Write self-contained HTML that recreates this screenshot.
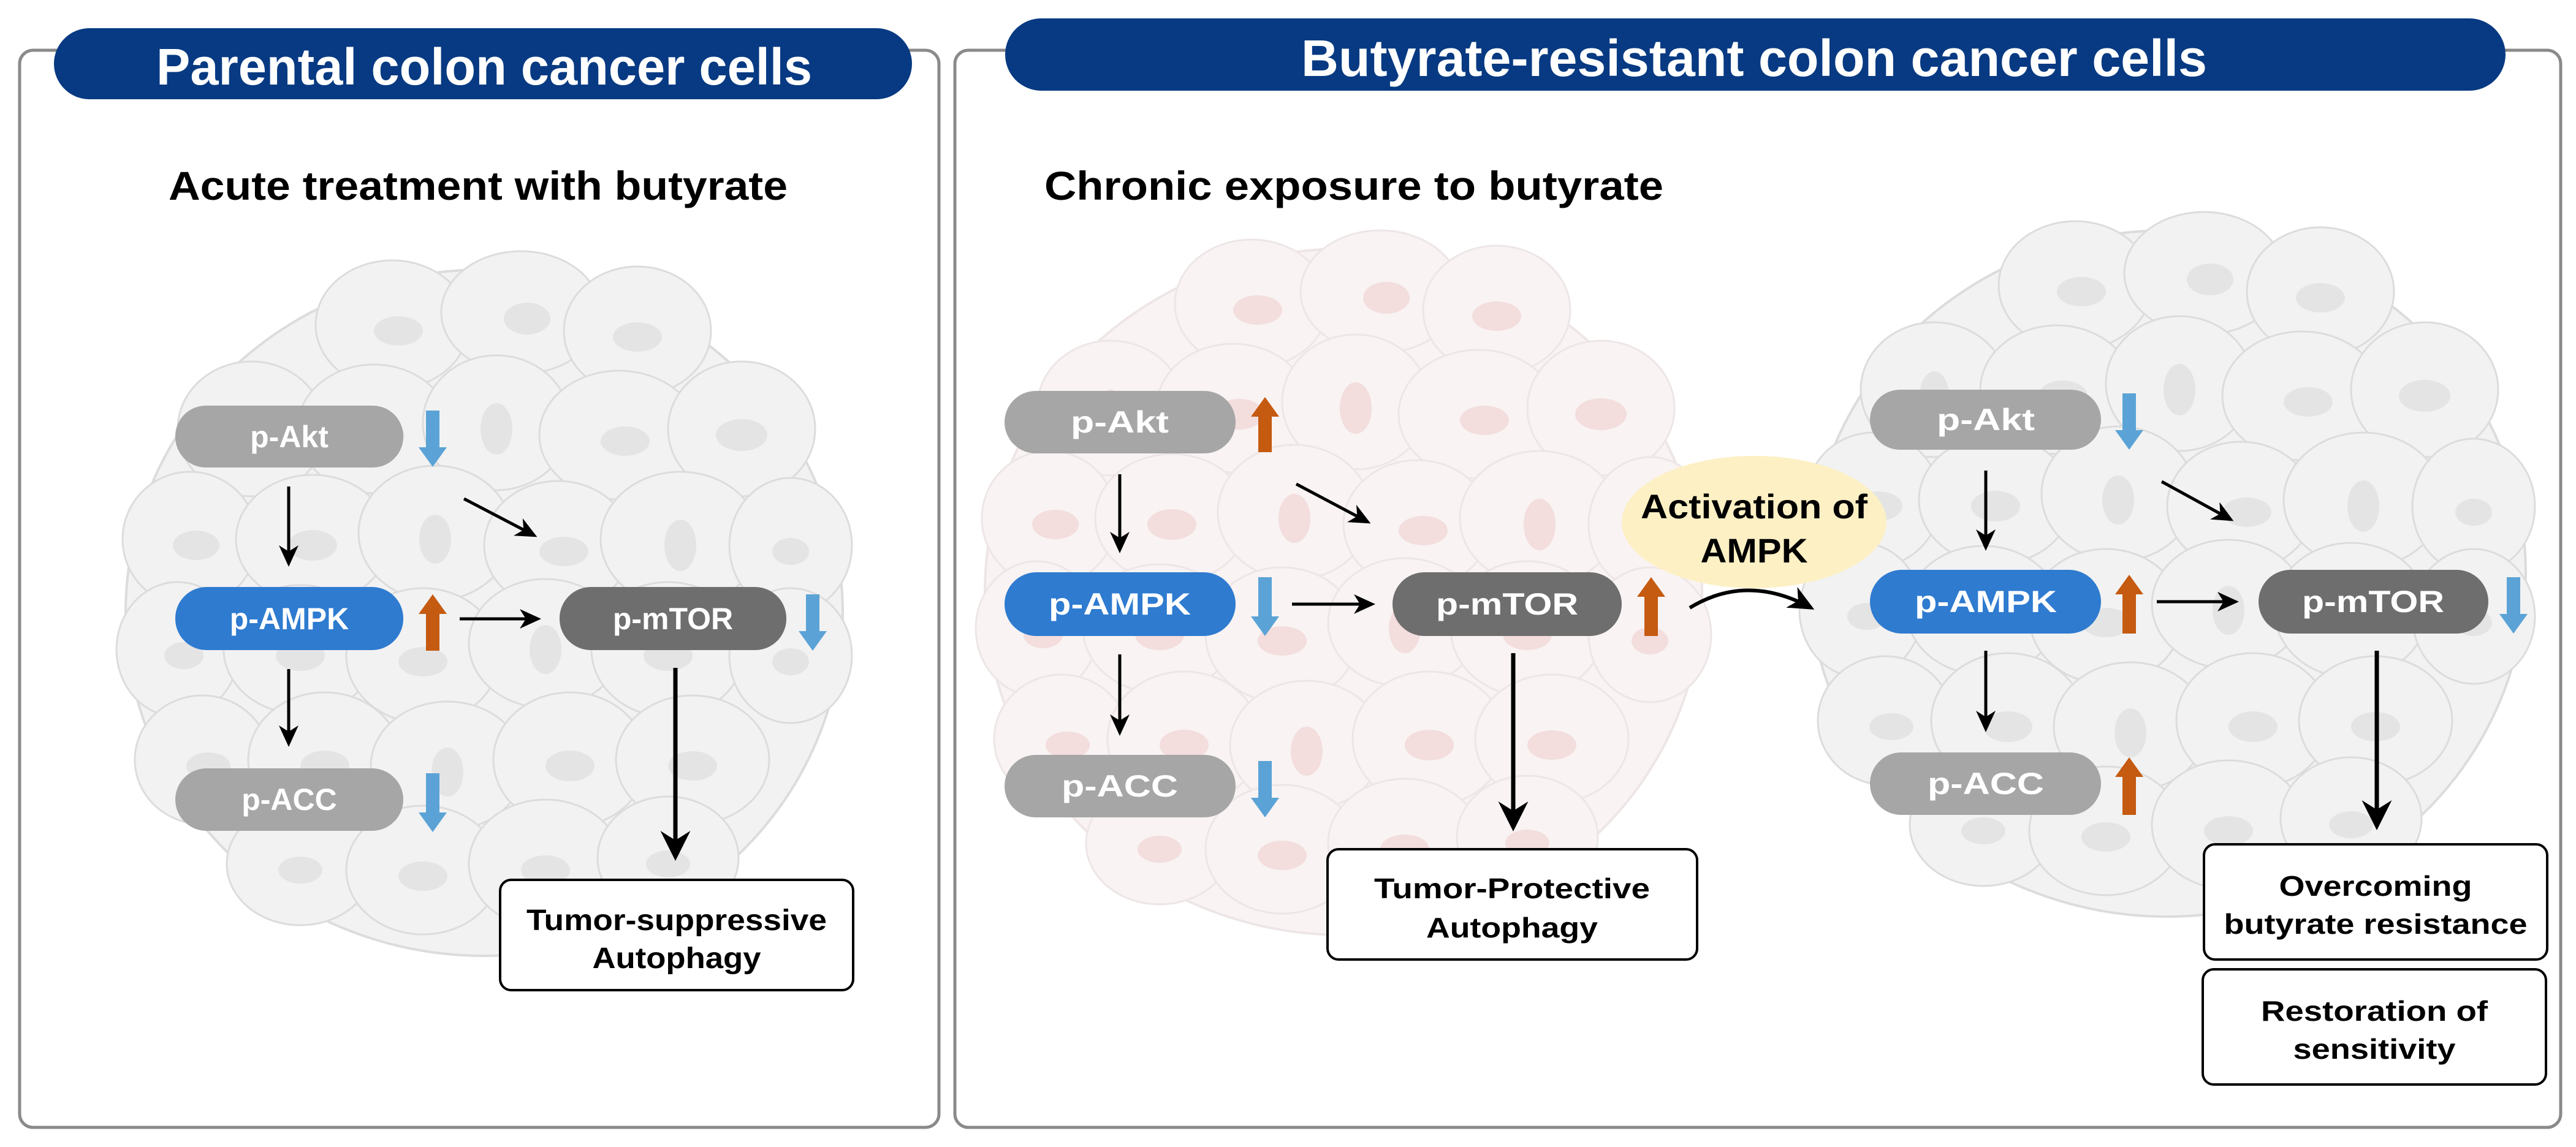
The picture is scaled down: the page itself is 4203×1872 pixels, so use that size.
<!DOCTYPE html>
<html><head><meta charset="utf-8"><style>
html,body{margin:0;padding:0;background:#fff}
svg{display:block}
text{font-family:"Liberation Sans",Arial,sans-serif;font-weight:bold}
</style></head><body>
<svg width="4203" height="1872" viewBox="0 0 4203 1872" xmlns="http://www.w3.org/2000/svg">
<defs>
<marker id="ah" markerWidth="8" markerHeight="8" refX="6" refY="4" orient="auto" markerUnits="strokeWidth"><path d="M0,0.8 L7,4 L0,7.2 L2,4 Z" fill="#000"/></marker>
<marker id="ah2" markerWidth="8" markerHeight="8" refX="6" refY="4" orient="auto" markerUnits="strokeWidth"><path d="M0,0.5 L7,4 L0,7.5 L2.2,4 Z" fill="#000"/></marker>
<g id="cluster">
 <ellipse cx="0" cy="0" rx="585" ry="560" stroke-width="4"/>
 <g stroke-width="3">
 <ellipse cx="-150" cy="-470" rx="125" ry="105"/><ellipse cx="60" cy="-490" rx="130" ry="100"/><ellipse cx="250" cy="-460" rx="120" ry="105"/>
 <ellipse cx="-380" cy="-300" rx="120" ry="110"/><ellipse cx="-180" cy="-300" rx="125" ry="105"/><ellipse cx="20" cy="-310" rx="120" ry="110"/><ellipse cx="220" cy="-290" rx="130" ry="105"/><ellipse cx="420" cy="-300" rx="120" ry="110"/>
 <ellipse cx="-480" cy="-120" rx="110" ry="110"/><ellipse cx="-280" cy="-120" rx="125" ry="105"/><ellipse cx="-80" cy="-130" rx="125" ry="110"/><ellipse cx="120" cy="-110" rx="120" ry="105"/><ellipse cx="320" cy="-120" rx="130" ry="110"/><ellipse cx="500" cy="-110" rx="100" ry="110"/>
 <ellipse cx="-500" cy="60" rx="100" ry="110"/><ellipse cx="-300" cy="60" rx="125" ry="105"/><ellipse cx="-100" cy="70" rx="125" ry="110"/><ellipse cx="100" cy="50" rx="125" ry="105"/><ellipse cx="300" cy="60" rx="125" ry="110"/><ellipse cx="500" cy="70" rx="100" ry="110"/>
 <ellipse cx="-460" cy="240" rx="110" ry="105"/><ellipse cx="-260" cy="240" rx="125" ry="110"/><ellipse cx="-60" cy="250" rx="125" ry="105"/><ellipse cx="140" cy="240" rx="125" ry="110"/><ellipse cx="340" cy="240" rx="125" ry="105"/>
 <ellipse cx="-300" cy="410" rx="120" ry="100"/><ellipse cx="-100" cy="420" rx="125" ry="105"/><ellipse cx="100" cy="410" rx="125" ry="105"/><ellipse cx="300" cy="400" rx="115" ry="100"/>
 </g>
 <g fill="currentColor" stroke="none">
 <ellipse cx="-140" cy="-460" rx="40" ry="24"/><ellipse cx="70" cy="-480" rx="38" ry="26"/><ellipse cx="250" cy="-450" rx="40" ry="24"/>
 <ellipse cx="-380" cy="-290" rx="24" ry="40"/><ellipse cx="-170" cy="-290" rx="40" ry="25"/><ellipse cx="20" cy="-300" rx="26" ry="42"/><ellipse cx="230" cy="-280" rx="40" ry="24"/><ellipse cx="420" cy="-290" rx="42" ry="26"/>
 <ellipse cx="-470" cy="-110" rx="38" ry="24"/><ellipse cx="-280" cy="-110" rx="40" ry="25"/><ellipse cx="-80" cy="-120" rx="26" ry="40"/><ellipse cx="130" cy="-100" rx="40" ry="24"/><ellipse cx="320" cy="-110" rx="26" ry="42"/><ellipse cx="500" cy="-100" rx="30" ry="22"/>
 <ellipse cx="-490" cy="70" rx="32" ry="22"/><ellipse cx="-300" cy="70" rx="40" ry="25"/><ellipse cx="-100" cy="80" rx="40" ry="24"/><ellipse cx="100" cy="60" rx="26" ry="40"/><ellipse cx="300" cy="70" rx="40" ry="25"/><ellipse cx="500" cy="80" rx="30" ry="22"/>
 <ellipse cx="-450" cy="250" rx="36" ry="22"/><ellipse cx="-260" cy="250" rx="40" ry="25"/><ellipse cx="-60" cy="260" rx="26" ry="40"/><ellipse cx="140" cy="250" rx="40" ry="25"/><ellipse cx="340" cy="250" rx="40" ry="24"/>
 <ellipse cx="-300" cy="420" rx="36" ry="22"/><ellipse cx="-100" cy="430" rx="40" ry="24"/><ellipse cx="100" cy="420" rx="40" ry="24"/><ellipse cx="300" cy="410" rx="36" ry="22"/>
 </g>
</g>
</defs>

<rect x="32" y="82" width="1500" height="1758" rx="22" fill="#fff" stroke="#8a8a8a" stroke-width="5"/>
<rect x="1558" y="82" width="2620" height="1758" rx="22" fill="#fff" stroke="#8a8a8a" stroke-width="5"/>
<rect x="88" y="46" width="1400" height="116" rx="58" fill="#073a82"/>
<rect x="1640" y="30" width="2448" height="118" rx="59" fill="#073a82"/>
<text x="790" y="138" font-size="84" fill="#fff" text-anchor="middle" textLength="1070" lengthAdjust="spacingAndGlyphs">Parental colon cancer cells</text>
<text x="2862" y="124" font-size="84" fill="#fff" text-anchor="middle" textLength="1478" lengthAdjust="spacingAndGlyphs">Butyrate-resistant colon cancer cells</text>
<text x="780" y="326" font-size="66" fill="#000" text-anchor="middle" textLength="1010" lengthAdjust="spacingAndGlyphs">Acute treatment with butyrate</text>
<text x="1704" y="326" font-size="66" fill="#000" textLength="1010" lengthAdjust="spacingAndGlyphs">Chronic exposure to butyrate</text>

<use href="#cluster" transform="translate(790,1000)" fill="#f2f2f2" stroke="#dcdcdc" color="#e4e4e4"/>
<use href="#cluster" transform="translate(2192,966)" fill="#f9f3f3" stroke="#eee6e6" color="#f3dddd"/>
<use href="#cluster" transform="translate(3536,936)" fill="#f2f2f2" stroke="#dcdcdc" color="#e4e4e4"/>

<g font-size="50" text-anchor="middle">
<rect x="286" y="662" width="372" height="101" rx="50" fill="#a6a6a6"/><text x="472" y="730" fill="#fff">p-Akt</text>
<rect x="286" y="958" width="372" height="103" rx="51" fill="#2e7bd0"/><text x="472" y="1027" fill="#fff">p-AMPK</text>
<rect x="286" y="1254" width="372" height="102" rx="51" fill="#a6a6a6"/><text x="472" y="1322" fill="#fff">p-ACC</text>
<rect x="913" y="958" width="370" height="103" rx="51" fill="#6e6e6e"/><text x="1098" y="1027" fill="#fff">p-mTOR</text>
</g>
<g stroke="#000" stroke-width="5" fill="none" marker-end="url(#ah)">
<line x1="471" y1="794" x2="471" y2="920"/>
<line x1="471" y1="1092" x2="471" y2="1214"/>
<line x1="757" y1="814" x2="872" y2="874"/>
<line x1="750" y1="1010" x2="878" y2="1010"/>
</g>
<line x1="1102" y1="1090" x2="1102" y2="1398" stroke="#000" stroke-width="7" marker-end="url(#ah2)"/>
<rect x="816" y="1436" width="576" height="180" rx="18" fill="#fff" stroke="#000" stroke-width="4"/>
<text x="1104" y="1518" font-size="48" text-anchor="middle" textLength="490" lengthAdjust="spacingAndGlyphs">Tumor-suppressive</text>
<text x="1104" y="1580" font-size="48" text-anchor="middle" textLength="275" lengthAdjust="spacingAndGlyphs">Autophagy</text>

<g font-size="50" text-anchor="middle">
<rect x="1639" y="638" width="377" height="102" rx="51" fill="#a6a6a6"/><text x="1827" y="706" fill="#fff" textLength="160" lengthAdjust="spacingAndGlyphs">p-Akt</text>
<rect x="1639" y="934" width="377" height="104" rx="52" fill="#2e7bd0"/><text x="1827" y="1003" fill="#fff" textLength="232" lengthAdjust="spacingAndGlyphs">p-AMPK</text>
<rect x="1639" y="1232" width="377" height="102" rx="51" fill="#a6a6a6"/><text x="1827" y="1300" fill="#fff" textLength="190" lengthAdjust="spacingAndGlyphs">p-ACC</text>
<rect x="2272" y="934" width="374" height="104" rx="52" fill="#6e6e6e"/><text x="2459" y="1003" fill="#fff" textLength="232" lengthAdjust="spacingAndGlyphs">p-mTOR</text>
</g>
<g stroke="#000" stroke-width="5" fill="none" marker-end="url(#ah)">
<line x1="1827" y1="774" x2="1827" y2="898"/>
<line x1="1827" y1="1068" x2="1827" y2="1196"/>
<line x1="2115" y1="790" x2="2232" y2="852"/>
<line x1="2108" y1="986" x2="2239" y2="986"/>
</g>
<line x1="2469" y1="1066" x2="2469" y2="1350" stroke="#000" stroke-width="7" marker-end="url(#ah2)"/>
<rect x="2166" y="1386" width="603" height="180" rx="18" fill="#fff" stroke="#000" stroke-width="4"/>
<text x="2467" y="1466" font-size="46" text-anchor="middle" textLength="450" lengthAdjust="spacingAndGlyphs">Tumor-Protective</text>
<text x="2467" y="1530" font-size="46" text-anchor="middle" textLength="280" lengthAdjust="spacingAndGlyphs">Autophagy</text>

<ellipse cx="2862" cy="852" rx="216" ry="108" fill="#fdf0c4"/>
<text x="2862" y="846" font-size="56" text-anchor="middle" textLength="370" lengthAdjust="spacingAndGlyphs">Activation of</text>
<text x="2862" y="918" font-size="56" text-anchor="middle" textLength="175" lengthAdjust="spacingAndGlyphs">AMPK</text>
<path d="M2757,992 Q2850,935 2955,992" stroke="#000" stroke-width="6" fill="none" marker-end="url(#ah)"/>

<g font-size="50" text-anchor="middle">
<rect x="3051" y="636" width="377" height="98" rx="49" fill="#a6a6a6"/><text x="3240" y="702" fill="#fff" textLength="160" lengthAdjust="spacingAndGlyphs">p-Akt</text>
<rect x="3051" y="930" width="377" height="104" rx="52" fill="#2e7bd0"/><text x="3240" y="999" fill="#fff" textLength="232" lengthAdjust="spacingAndGlyphs">p-AMPK</text>
<rect x="3051" y="1228" width="377" height="102" rx="51" fill="#a6a6a6"/><text x="3240" y="1296" fill="#fff" textLength="190" lengthAdjust="spacingAndGlyphs">p-ACC</text>
<rect x="3685" y="930" width="375" height="104" rx="52" fill="#6e6e6e"/><text x="3872" y="999" fill="#fff" textLength="232" lengthAdjust="spacingAndGlyphs">p-mTOR</text>
</g>
<g stroke="#000" stroke-width="5" fill="none" marker-end="url(#ah)">
<line x1="3240" y1="768" x2="3240" y2="894"/>
<line x1="3240" y1="1062" x2="3240" y2="1190"/>
<line x1="3527" y1="786" x2="3640" y2="848"/>
<line x1="3519" y1="982" x2="3648" y2="982"/>
</g>
<line x1="3878" y1="1062" x2="3878" y2="1348" stroke="#000" stroke-width="7" marker-end="url(#ah2)"/>
<rect x="3596" y="1378" width="560" height="188" rx="18" fill="#fff" stroke="#000" stroke-width="4"/>
<text x="3876" y="1462" font-size="46" text-anchor="middle" textLength="315" lengthAdjust="spacingAndGlyphs">Overcoming</text>
<text x="3876" y="1524" font-size="46" text-anchor="middle" textLength="495" lengthAdjust="spacingAndGlyphs">butyrate resistance</text>
<rect x="3594" y="1582" width="560" height="188" rx="18" fill="#fff" stroke="#000" stroke-width="4"/>
<text x="3874" y="1666" font-size="46" text-anchor="middle" textLength="370" lengthAdjust="spacingAndGlyphs">Restoration of</text>
<text x="3874" y="1728" font-size="46" text-anchor="middle" textLength="265" lengthAdjust="spacingAndGlyphs">sensitivity</text>

<g fill="#5ba3d6">
<polygon points="695,670 717,670 717,730 729,730 706,762 683,730 695,730"/>
<polygon points="695,1262 717,1262 717,1326 729,1326 706,1358 683,1326 695,1326"/>
<polygon points="1315,970 1337,970 1337,1030 1349,1030 1326,1062 1303,1030 1315,1030"/>
<polygon points="2053,942 2075,942 2075,1006 2087,1006 2064,1038 2041,1006 2053,1006"/>
<polygon points="2053,1242 2075,1242 2075,1302 2087,1302 2064,1334 2041,1302 2053,1302"/>
<polygon points="3463,642 3485,642 3485,702 3497,702 3474,734 3451,702 3463,702"/>
<polygon points="4090,942 4112,942 4112,1002 4124,1002 4101,1034 4078,1002 4090,1002"/>
</g>
<g fill="#c55a11">
<polygon points="695,1062 717,1062 717,1002 729,1002 706,970 683,1002 695,1002"/>
<polygon points="2053,738 2075,738 2075,680 2087,680 2064,648 2041,680 2053,680"/>
<polygon points="2683,1038 2705,1038 2705,974 2717,974 2694,942 2671,974 2683,974"/>
<polygon points="3463,1034 3485,1034 3485,970 3497,970 3474,938 3451,970 3463,970"/>
<polygon points="3463,1330 3485,1330 3485,1268 3497,1268 3474,1236 3451,1268 3463,1268"/>
</g>
</svg>
</body></html>
